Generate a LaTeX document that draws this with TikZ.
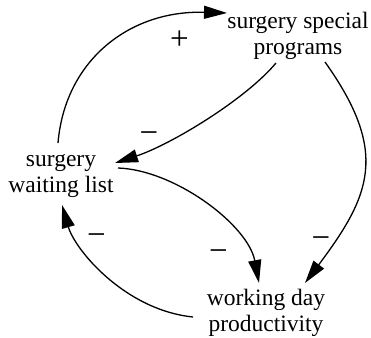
\documentclass[tikz,border=0pt]{standalone}
\usepackage{fontspec}
\setmainfont{Liberation Serif}
\usetikzlibrary{arrows.meta}
\tikzset{
  var/.style={align=center, font=\fontsize{23.5}{25.5}\selectfont, inner sep=2pt},
  link/.style={line width=1.3pt, -{Triangle[length=23pt,width=13pt]}},
  pol/.style={font=\fontsize{33}{33}\selectfont, inner sep=0pt}
}
\begin{document}
\begin{tikzpicture}[x=1pt,y=-1pt]
\useasboundingbox (0,0) rectangle (371,337);
\node[var] (ssp) at (298,36) {surgery special\\programs};
\node[var] (swl) at (61,176) {surgery\\waiting list};
\node[var] (wdp) at (266,313) {working day\\productivity};
% endpoints
\coordinate (a1) at (58,143);
\coordinate (b1) at (227,13);
\coordinate (a2) at (276,63);
\coordinate (b2) at (115,163);
\coordinate (a3) at (325,62);
\coordinate (b3) at (305,283);
\coordinate (a4) at (118,168);
\coordinate (b4) at (259,283);
\coordinate (a5) at (193,317);
\coordinate (b5) at (62,205);
\draw[link] (a1) .. controls (65,60) and (130,10) .. (b1);
\draw[link] (a2) .. controls (245,100) and (170,145) .. (b2);
\draw[link] (a3) .. controls (389,152) and (371,195) .. (b3);
\draw[link] (a4) .. controls (175,170) and (248,225) .. (b4);
\draw[link] (a5) .. controls (125,310) and (75,250) .. (b5);
\node[pol] (p1) at (179.5,40.5) {+};
\node[pol] (m2) at (149,138) {−};
\node[pol] (m3) at (321,243) {−};
\node[pol] (m4) at (218.5,256) {−};
\node[pol] (m5) at (96.5,240) {−};
\end{tikzpicture}
\end{document}
